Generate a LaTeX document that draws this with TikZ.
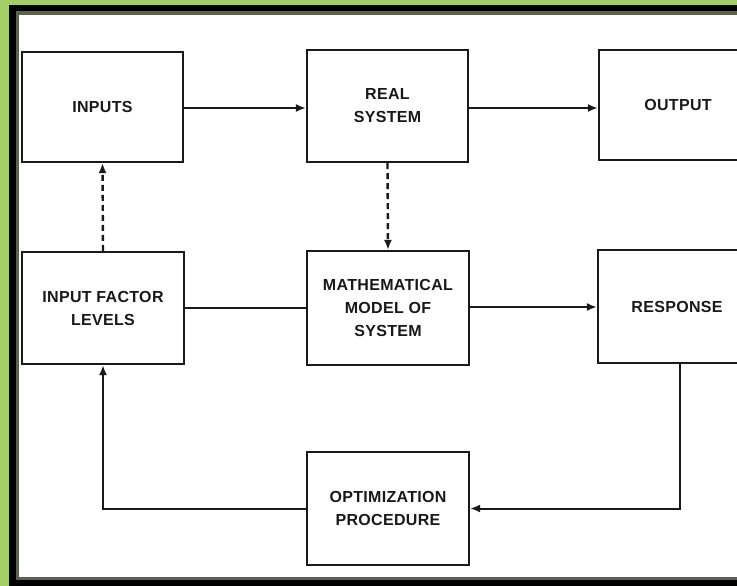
\documentclass[tikz,border=0pt]{standalone}
\usepackage{fontspec}
\setmainfont{Liberation Sans}
\usetikzlibrary{arrows.meta}
\definecolor{leaf}{RGB}{163,206,104}
\definecolor{rim}{RGB}{92,98,80}
\definecolor{ink}{RGB}{25,25,25}
\tikzset{
  blk/.style={draw=ink, line width=2.2pt, fill=white, align=center,
    font=\fontsize{16}{23}\selectfont\bfseries\addfontfeatures{LetterSpace=2}, text=ink,
    minimum width=161pt, minimum height=112pt, inner sep=0pt},
  flow/.style={draw=ink, line width=2pt, -{Latex[length=10pt,width=8pt]}},
  link/.style={draw=ink, line width=2pt},
  dashflow/.style={flow, line width=2.4pt, dash pattern=on 6pt off 4pt}
}
\begin{document}
\begin{tikzpicture}[x=1pt, y=-1pt]
  % page and frame
  \useasboundingbox (0,0) rectangle (737,586);
  \fill[leaf] (0,0) rectangle (737,586);
  \fill[black] (9,5) rectangle (737,586);
  \fill[rim] (16,11) rectangle (737,580);
  \fill[white] (19,15) rectangle (737,577);

  % blocks
  \node[blk, minimum height=110pt] (inputs) at (102.5,107) {INPUTS};
  \node[blk] (real) at (387.5,106) {REAL\\SYSTEM};
  \node[blk, minimum width=158pt, minimum height=110pt] (output) at (678,105) {OUTPUT};
  \node[blk, minimum width=162pt] (factor) at (103,308) {INPUT FACTOR\\LEVELS};
  \node[blk, minimum width=162pt, minimum height=114pt] (model) at (388,308) {MATHEMATICAL\\MODEL OF\\SYSTEM};
  \node[blk, minimum width=158pt, minimum height=113pt] (response) at (677,306.5) {RESPONSE};
  \node[blk, minimum width=162pt, minimum height=113pt] (optim) at (388,508.5) {OPTIMIZATION\\PROCEDURE};

  % connectors
  \coordinate (rc) at (680,508.5);
  \draw[flow] (inputs.east |- 0,108) -- (real.west |- 0,108);
  \draw[flow] (real.east |- 0,108) -- (output.west |- 0,108);
  \draw[dashflow] (real.south) -- (model.north);
  \draw[dashflow] (factor.north) -- (inputs.south);
  \draw[link] (factor.east) -- (model.west);
  \draw[flow] (model.east |- 0,307) -- (response.west |- 0,307);
  \draw[flow] (response.south -| rc) -- (rc) -- (optim.east);
  \draw[flow] (optim.west) -| (factor.south);
\end{tikzpicture}
\end{document}
